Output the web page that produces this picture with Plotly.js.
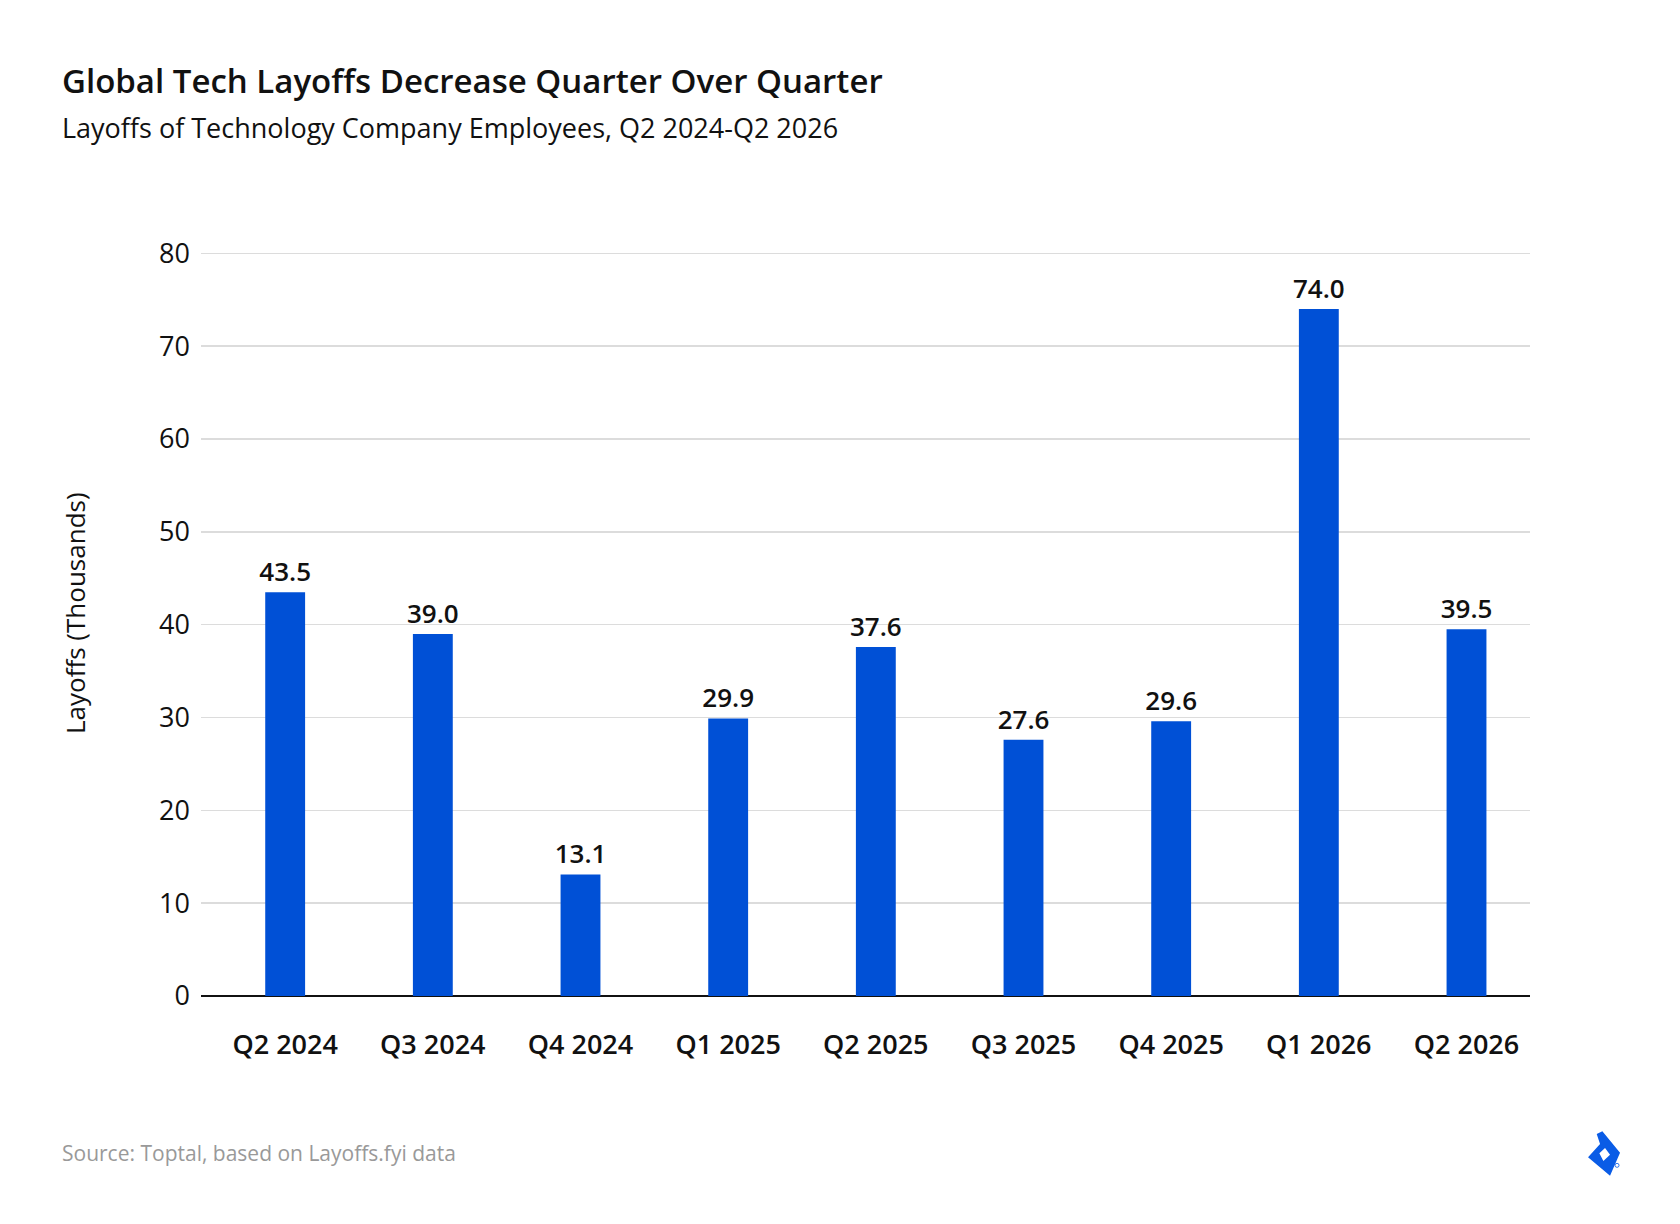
<!DOCTYPE html>
<html>
<head>
<meta charset="utf-8">
<script src="https://cdn.plot.ly/plotly-3.0.1.min.js"></script>
<style>html,body{margin:0;padding:0;background:#fff;}#chart{width:1680px;height:1224px;}</style>
</head>
<body>
<div id="chart"></div>
<script>
const quarters = ["Q2 2024","Q3 2024","Q4 2024","Q1 2025","Q2 2025","Q3 2025","Q4 2025","Q1 2026","Q2 2026"];
const layoffs = [43.5, 39.0, 13.1, 29.9, 37.6, 27.6, 29.6, 74.0, 39.5];
const yTicks = [0,10,20,30,40,50,60,70,80];

const FONT = "'Open Sans', Lato, sans-serif";
const L = 201, R = 150, T = 252, B = 228;
const W = 1680, H = 1224;
const pw = W - L - R, ph = H - T - B;
const px = x => (x - L) / pw;
const py = y => (H - B - y) / ph;

const logoSvg = '<svg xmlns="http://www.w3.org/2000/svg" viewBox="110 60 110 145">' +
  '<path fill="#0a5ce6" fill-rule="evenodd" d="M140 72 L157 64 L210 128 L180 197 L114 142 L150 102 Z M148 130 L165 114 L180 134 L160 153 Z"/>' +
  '<circle cx="201" cy="166" r="6" fill="none" stroke="#0a5ce6" stroke-width="2.5"/>' +
  '</svg>';

const data = [{
  type: 'bar',
  x: quarters,
  y: layoffs,
  marker: {color: '#0050d6'},
  text: layoffs.map(v => v.toFixed(1)),
  textposition: 'outside',
  constraintext: 'none',
  textfont: {family: FONT, size: 26, color: '#111', weight: 600},
  cliponaxis: false,
  hoverinfo: 'skip'
}];

const layout = {
  width: W, height: H,
  margin: {l: L, r: R, t: T, b: B, pad: 0},
  paper_bgcolor: '#fff',
  plot_bgcolor: '#fff',
  font: {family: FONT, color: '#111'},
  showlegend: false,
  bargap: 0.73,
  xaxis: {
    type: 'category',
    range: [-0.57, 8.43],
    showgrid: false,
    showline: false,
    zeroline: false,
    ticks: '',
    ticklabelstandoff: 30,
    tickfont: {family: FONT, size: 27, color: '#111', weight: 600},
    fixedrange: true
  },
  yaxis: {
    range: [0, 80.15],
    tickvals: yTicks,
    ticktext: yTicks.map(String),
    showgrid: true,
    gridcolor: '#dcdcdc',
    gridwidth: 1.5,
    zeroline: true,
    zerolinecolor: '#111',
    zerolinewidth: 2,
    showline: false,
    ticks: '',
    ticklabelstandoff: 10,
    tickfont: {family: FONT, size: 27, color: '#111'},
    fixedrange: true
  },
  annotations: [
    {text: 'Global Tech Layoffs Decrease Quarter Over Quarter', xref: 'paper', yref: 'paper',
     x: px(60), y: py(80), xanchor: 'left', yanchor: 'middle', showarrow: false,
     font: {family: FONT, size: 33, color: '#111', weight: 600}},
    {text: 'Layoffs of Technology Company Employees, Q2 2024-Q2 2026', xref: 'paper', yref: 'paper',
     x: px(60), y: py(128), xanchor: 'left', yanchor: 'middle', showarrow: false,
     font: {family: FONT, size: 27, color: '#111'}},
    {text: 'Layoffs (Thousands)', xref: 'paper', yref: 'paper', textangle: -90,
     x: px(75), y: py(613), xanchor: 'center', yanchor: 'middle', showarrow: false,
     font: {family: FONT, size: 26, color: '#111'}},
    {text: 'Source: Toptal, based on Layoffs.fyi data', xref: 'paper', yref: 'paper',
     x: px(60), y: py(1153), xanchor: 'left', yanchor: 'middle', showarrow: false,
     font: {family: FONT, size: 21, color: '#999'}}
  ],
  images: [{
    source: 'data:image/svg+xml;utf8,' + encodeURIComponent(logoSvg),
    xref: 'paper', yref: 'paper',
    x: px(1586.7), y: py(1130),
    sizex: (110/3)/pw, sizey: (145/3)/ph,
    xanchor: 'left', yanchor: 'top', sizing: 'stretch', layer: 'above'
  }]
};

Plotly.newPlot('chart', data, layout, {displayModeBar: false, staticPlot: true});
</script>
</body>
</html>
